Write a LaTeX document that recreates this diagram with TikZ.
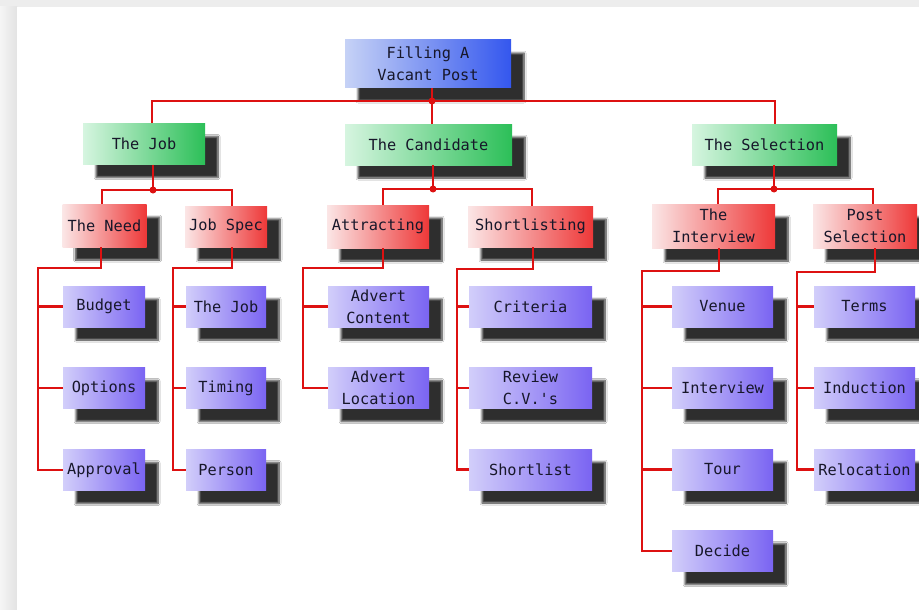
\documentclass[tikz,border=0pt]{standalone}
\usepackage{fontspec}
\usetikzlibrary{shadows.blur}
\newfontfamily\boxfont{DejaVu Sans Mono}

\definecolor{boxtext}{HTML}{17172A}
\definecolor{wire}{HTML}{DD1111}
\definecolor{rootL}{HTML}{C6D2F6}
\definecolor{rootR}{HTML}{3457EE}
\definecolor{greenL}{HTML}{D6F5E0}
\definecolor{greenR}{HTML}{2CBF58}
\definecolor{redL}{HTML}{FBE6E6}
\definecolor{redR}{HTML}{EE3838}
\definecolor{violetL}{HTML}{D2CEFA}
\definecolor{violetR}{HTML}{7A64F2}
\definecolor{pageedge}{HTML}{EDEDED}

\begin{document}
\begin{tikzpicture}[x=1pt,y=-1pt,
  box/.style={rectangle, inner sep=0pt, align=center, text=boxtext,
    font=\boxfont\fontsize{15.3}{22}\selectfont,
    blur shadow={shadow xshift=13pt, shadow yshift=-13pt,
      shadow blur radius=2pt, shadow blur steps=8, shadow opacity=82}},
  topbox/.style={box, left color=rootL, right color=rootR},
  groupbox/.style={box, left color=greenL, right color=greenR,
    minimum height=41pt},
  stagebox/.style={box, left color=redL, right color=redR},
  taskbox/.style={box, left color=violetL, right color=violetR,
    minimum height=41pt},
  wire/.style={draw=wire, line width=2.8pt},
  joint/.style={circle, fill=wire, inner sep=0pt, minimum size=7pt}
]
\useasboundingbox (0,0) rectangle (919,610);

% page background
\fill[pageedge] (0,0) rectangle (919,7);
\shade[left color=white!96!black, right color=white!89!black]
  (0,7) rectangle (17,610);
\fill[white] (17,7) rectangle (919,610);

% ---------- boxes ----------
\node[topbox, minimum width=166pt, minimum height=48pt] (root) at (428,64)
  {Filling A\\Vacant Post};

\node[groupbox, minimum width=122pt] (job)  at (144,144)   {The Job};
\node[groupbox, minimum width=167pt] (cand) at (428.5,144.5) {The Candidate};
\node[groupbox, minimum width=145pt] (sel)  at (764.5,144.5) {The Selection};

\node[stagebox, minimum width=84pt,  minimum height=43pt] (need)  at (104.5,225.5) {The Need};
\node[stagebox, minimum width=82pt,  minimum height=41pt] (spec)  at (226,226.5)   {Job Spec};
\node[stagebox, minimum width=102pt, minimum height=43pt] (attr)  at (378,226.5)   {Attracting};
\node[stagebox, minimum width=125pt, minimum height=41pt] (short) at (530.5,226.5) {Shortlisting};
\node[stagebox, minimum width=123pt, minimum height=44pt] (intv)  at (713.5,226)   {The\\Interview};
\node[stagebox, minimum width=104pt, minimum height=44pt] (post)  at (865,226)     {Post\\Selection};

% tasks under The Need
\node[taskbox, minimum width=82pt] (budget)   at (104,306.5) {Budget};
\node[taskbox, minimum width=82pt] (options)  at (104,388)   {Options};
\node[taskbox, minimum width=82pt] (approval) at (104,470)   {Approval};
% tasks under Job Spec
\node[taskbox, minimum width=80pt] (thejob) at (226,306.5) {The Job};
\node[taskbox, minimum width=80pt] (timing) at (226,388)   {Timing};
\node[taskbox, minimum width=80pt] (person) at (226,470)   {Person};
% tasks under Attracting
\node[taskbox, minimum width=101pt] (advcont) at (378.5,306.5) {Advert\\Content};
\node[taskbox, minimum width=101pt] (advloc)  at (378.5,388)   {Advert\\Location};
% tasks under Shortlisting
\node[taskbox, minimum width=123pt] (criteria)  at (530.5,306.5) {Criteria};
\node[taskbox, minimum width=123pt] (review)    at (530.5,388)   {Review\\C.V.'s};
\node[taskbox, minimum width=123pt] (shortlist) at (530.5,469.5) {Shortlist};
% tasks under The Interview
\node[taskbox, minimum width=101pt] (venue)     at (722.5,306.5) {Venue};
\node[taskbox, minimum width=101pt] (interview) at (722.5,388)   {Interview};
\node[taskbox, minimum width=101pt] (tour)      at (722.5,469.5) {Tour};
\node[taskbox, minimum width=101pt] (decide)    at (722.5,551)   {Decide};
% tasks under Post Selection
\node[taskbox, minimum width=101pt] (terms)      at (864.5,306.5) {Terms};
\node[taskbox, minimum width=101pt] (induction)  at (864.5,388)   {Induction};
\node[taskbox, minimum width=101pt] (relocation) at (864.5,469.5) {Relocation};

% ---------- connectors ----------
% root to the three groups
\coordinate (j0) at (432,101);
\coordinate (b0L) at (152,101);
\coordinate (b0R) at (775,101);
\draw[wire] (root.south -| j0) -- (j0);
\draw[wire] (b0L |- job.north) -- (b0L) -- (b0R) -- (b0R |- sel.north);
\draw[wire] (j0) -- (j0 |- cand.north);
\node[joint] (d0) at (j0) {};

% The Job to its stages
\coordinate (j1) at (153,190);
\coordinate (b1L) at (102,190);
\coordinate (b1R) at (232,190);
\draw[wire] (job.south -| j1) -- (j1);
\draw[wire] (b1L |- need.north) -- (b1L) -- (b1R) -- (b1R |- spec.north);
\node[joint] (d1) at (j1) {};

% The Candidate to its stages
\coordinate (j2) at (433,189);
\coordinate (b2L) at (383,189);
\coordinate (b2R) at (532,189);
\draw[wire] (cand.south -| j2) -- (j2);
\draw[wire] (b2L |- attr.north) -- (b2L) -- (b2R) -- (b2R |- short.north);
\node[joint] (d2) at (j2) {};

% The Selection to its stages
\coordinate (j3) at (774,189);
\coordinate (b3L) at (718,189);
\coordinate (b3R) at (873,189);
\draw[wire] (sel.south -| j3) -- (j3);
\draw[wire] (b3L |- intv.north) -- (b3L) -- (b3R) -- (b3R |- post.north);
\node[joint] (d3) at (j3) {};

% The Need bracket
\coordinate (k1) at (101,268);
\coordinate (r1) at (38,268);
\draw[wire] (k1 |- need.south) -- (k1) -- (r1) -- (r1 |- approval.west) -- (approval.west);
\draw[wire] (r1 |- budget.west) -- (budget.west);
\draw[wire] (r1 |- options.west) -- (options.west);

% Job Spec bracket
\coordinate (k2) at (232,268);
\coordinate (r2) at (173,268);
\draw[wire] (k2 |- spec.south) -- (k2) -- (r2) -- (r2 |- person.west) -- (person.west);
\draw[wire] (r2 |- thejob.west) -- (thejob.west);
\draw[wire] (r2 |- timing.west) -- (timing.west);

% Attracting bracket
\coordinate (k3) at (383,268);
\coordinate (r3) at (303,268);
\draw[wire] (k3 |- attr.south) -- (k3) -- (r3) -- (r3 |- advloc.west) -- (advloc.west);
\draw[wire] (r3 |- advcont.west) -- (advcont.west);

% Shortlisting bracket
\coordinate (k4) at (533,269);
\coordinate (r4) at (457,269);
\draw[wire] (k4 |- short.south) -- (k4) -- (r4) -- (r4 |- shortlist.west) -- (shortlist.west);
\draw[wire] (r4 |- criteria.west) -- (criteria.west);
\draw[wire] (r4 |- review.west) -- (review.west);

% The Interview bracket
\coordinate (k5) at (719,271);
\coordinate (r5) at (642,271);
\draw[wire] (k5 |- intv.south) -- (k5) -- (r5) -- (r5 |- decide.west) -- (decide.west);
\draw[wire] (r5 |- venue.west) -- (venue.west);
\draw[wire] (r5 |- interview.west) -- (interview.west);
\draw[wire] (r5 |- tour.west) -- (tour.west);

% Post Selection bracket
\coordinate (k6) at (875,272);
\coordinate (r6) at (797,272);
\draw[wire] (k6 |- post.south) -- (k6) -- (r6) -- (r6 |- relocation.west) -- (relocation.west);
\draw[wire] (r6 |- terms.west) -- (terms.west);
\draw[wire] (r6 |- induction.west) -- (induction.west);
\end{tikzpicture}
\end{document}
